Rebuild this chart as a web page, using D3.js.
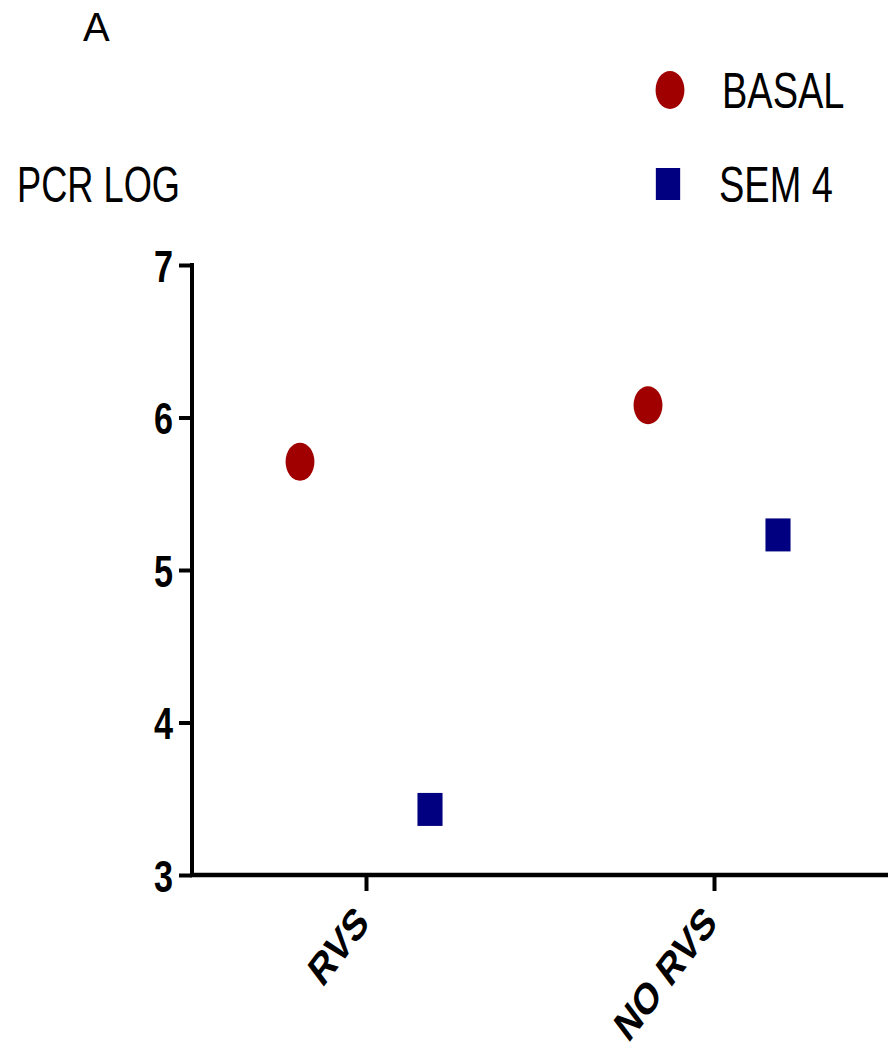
<!DOCTYPE html>
<html>
<head>
<meta charset="utf-8">
<script src="https://cdn.jsdelivr.net/npm/d3@7"></script>
<style>
  html, body { margin: 0; padding: 0; background: #fff; }
  svg { display: block; }
  text { font-family: "Liberation Sans", Arial, Helvetica, sans-serif; fill: #000; }
</style>
</head>
<body>
<script>
// Data
const categories = ["RVS", "NO RVS"];
const series = ["BASAL", "SEM 4"];
const basalValues = [5.71, 6.08];
const sem4Values = [3.43, 5.23];
const yTicks = [3, 4, 5, 6, 7];
const panelLabel = "A";
const yTitle = "PCR LOG";

const colors = { "BASAL": "#a00000", "SEM 4": "#000080" };

const W = 888, H = 1057;
const SX = 0.76; // horizontal condensing of glyphs and markers

const svg = d3.select("body").append("svg")
  .attr("width", W).attr("height", H);

const y = d3.scaleLinear().domain([3, 7]).range([875, 265]);
const x = d3.scalePoint().domain(categories).range([192, 888]).padding(0.5);
const off = d3.scalePoint().domain(series).range([-66, 64]);

const axisX0 = 192;

// Y axis
const yAxis = svg.append("g")
  .attr("transform", `translate(${axisX0},0)`)
  .call(d3.axisLeft(y).tickValues(yTicks).tickSize(13).tickSizeOuter(0).tickFormat(d3.format("d")));
yAxis.select(".domain").attr("stroke", "#000").attr("stroke-width", 4)
  .attr("d", `M0,${y(7) - 2}V${y(3) + 2}`);
yAxis.selectAll(".tick line").attr("stroke", "#000").attr("stroke-width", 4);
yAxis.selectAll(".tick text")
  .attr("x", null).attr("dy", null)
  .attr("text-anchor", "end")
  .attr("font-size", 45).attr("font-weight", "bold")
  .attr("font-family", "'Liberation Sans', Arial, sans-serif")
  .attr("transform", `translate(-19,16) scale(${SX},1)`)
  .attr("y", 0);

// X axis
const xAxis = svg.append("g")
  .attr("transform", `translate(0,${y(3)})`)
  .call(d3.axisBottom(x).tickSize(16).tickSizeOuter(0));
xAxis.select(".domain").attr("stroke", "#000").attr("stroke-width", 4.5)
  .attr("d", `M${axisX0 - 2},0H${W + 2}`);
xAxis.selectAll(".tick line").attr("stroke", "#000").attr("stroke-width", 4);
xAxis.selectAll(".tick text")
  .attr("y", null).attr("dy", null)
  .attr("text-anchor", "end")
  .attr("font-size", 44).attr("font-weight", "bold")
  .attr("font-family", "'Liberation Sans', Arial, sans-serif")
  .attr("transform", `translate(4,50) scale(${SX},1) rotate(-45)`);

// Points
const pts = [];
categories.forEach((c, i) => {
  pts.push({ cat: c, s: "BASAL", v: basalValues[i] });
  pts.push({ cat: c, s: "SEM 4", v: sem4Values[i] });
});

const plot = svg.append("g");
plot.selectAll("ellipse")
  .data(pts.filter(d => d.s === "BASAL"))
  .join("ellipse")
  .attr("cx", d => x(d.cat) + off(d.s))
  .attr("cy", d => y(d.v))
  .attr("rx", 19 * SX).attr("ry", 19)
  .attr("fill", colors["BASAL"]);

plot.selectAll("rect")
  .data(pts.filter(d => d.s === "SEM 4"))
  .join("rect")
  .attr("x", d => x(d.cat) + off(d.s) - 16.5 * SX)
  .attr("y", d => y(d.v) - 16.5)
  .attr("width", 33 * SX).attr("height", 33)
  .attr("fill", colors["SEM 4"]);

// Legend
const legend = svg.append("g");
const legY = [90, 184];
series.forEach((s, i) => {
  const g = legend.append("g");
  if (s === "BASAL") {
    g.append("ellipse").attr("cx", 670).attr("cy", legY[i])
      .attr("rx", 19 * SX).attr("ry", 19).attr("fill", colors[s]);
  } else {
    g.append("rect").attr("x", 668 - 16 * SX).attr("y", legY[i] - 16)
      .attr("width", 32 * SX).attr("height", 32).attr("fill", colors[s]);
  }
  g.append("text")
    .attr("transform", `translate(${i === 0 ? 722 : 719},${legY[i] + 18}) scale(${SX},1)`)
    .attr("font-size", 50)
    .text(s);
});

// Titles
svg.append("text")
  .attr("transform", `translate(17,202) scale(${SX},1)`)
  .attr("font-size", 50)
  .attr("textLength", 163 / SX)
  .attr("lengthAdjust", "spacingAndGlyphs")
  .text(yTitle);

svg.append("text")
  .attr("x", 83).attr("y", 41)
  .attr("font-size", 40)
  .text(panelLabel);
</script>
</body>
</html>
